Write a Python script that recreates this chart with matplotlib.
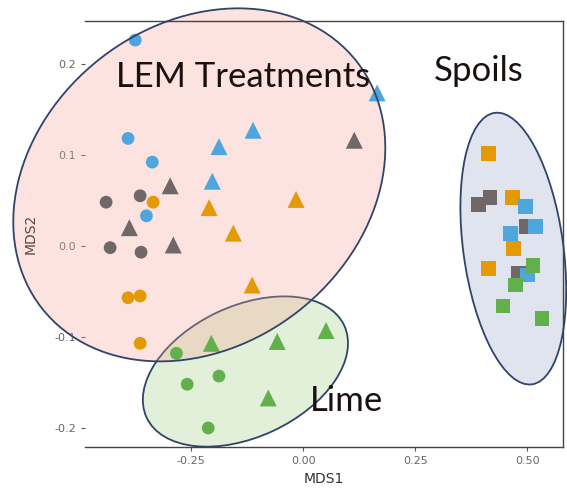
import matplotlib.pyplot as plt
from matplotlib.patches import Ellipse
from matplotlib.transforms import ScaledTranslation

# NMDS site scores, one list per marker shape
circle_x = [-0.375, -0.391, -0.337, -0.350,
            -0.364, -0.440, -0.431, -0.362,
            -0.335, -0.391, -0.364, -0.364,
            -0.283, -0.259, -0.188, -0.212]
circle_y = [0.226, 0.118, 0.092, 0.033,
            0.055, 0.048, -0.002, -0.007,
            0.048, -0.057, -0.055, -0.107,
            -0.118, -0.152, -0.143, -0.200]
circle_grp = ["blue"] * 4 + ["grey"] * 4 + ["orange"] * 4 + ["green"] * 4

triangle_x = [-0.112, -0.188, -0.203, 0.165,
              -0.297, -0.388, -0.290, 0.114,
              -0.210, -0.156, -0.016, -0.114,
              -0.205, -0.058, 0.051, -0.078]
triangle_y = [0.127, 0.109, 0.071, 0.168,
              0.066, 0.020, 0.001, 0.116,
              0.042, 0.014, 0.051, -0.043,
              -0.107, -0.105, -0.093, -0.167]
triangle_grp = ["blue"] * 4 + ["grey"] * 4 + ["orange"] * 4 + ["green"] * 4

square_x = [0.413, 0.467, 0.469, 0.413,
            0.391, 0.417, 0.498, 0.480,
            0.496, 0.518, 0.462, 0.500,
            0.513, 0.473, 0.446, 0.533]
square_y = [0.101, 0.053, -0.003, -0.025,
            0.045, 0.053, 0.021, -0.030,
            0.043, 0.021, 0.014, -0.032,
            -0.022, -0.043, -0.066, -0.080]
square_grp = ["orange"] * 4 + ["grey"] * 4 + ["blue"] * 4 + ["green"] * 4

x_ticks = [-0.25, 0.0, 0.25, 0.50]
x_ticklabels = ["-0.25", "0.00", "0.25", "0.50"]
y_ticks = [0.2, 0.1, 0.0, -0.1, -0.2]
y_ticklabels = ["0.2", "0.1", "0.0", "-0.1", "-0.2"]

colours = {"blue": "#4fa6dd", "grey": "#706768", "orange": "#e39a06", "green": "#62b04c"}

fig = plt.figure(figsize=(5.67, 4.99), dpi=100)
ax = fig.add_axes([0.150, 0.104, 0.843, 0.854])
ax.set_xlim(-0.487, 0.580)
ax.set_ylim(-0.221, 0.247)

ax.scatter(circle_x, circle_y, c=[colours[g] for g in circle_grp], marker="o", s=85,
           linewidths=0, zorder=3)
ax.scatter(triangle_x, triangle_y, c=[colours[g] for g in triangle_grp], marker="^", s=150,
           linewidths=0, zorder=3)
ax.scatter(square_x, square_y, c=[colours[g] for g in square_grp], marker="s", s=115,
           linewidths=0, zorder=3)


def add_ellipse(cx, cy, w, h, angle, z, **kw):
    # size in inches, centred on a data point
    tr = fig.dpi_scale_trans + ScaledTranslation(cx, cy, ax.transData)
    e = Ellipse((0, 0), w, h, angle=angle, transform=tr, clip_on=False, zorder=z, **kw)
    ax.add_patch(e)
    return e


edge = "#2f4468"
add_ellipse(-0.129, -0.138, 2.18, 1.31, 25, 1, facecolor="#e2f0d9", edgecolor=edge, lw=1.3)
add_ellipse(0.469, -0.003, 2.74, 1.00, 97.8, 1, facecolor="#dfe4ee", edgecolor=edge, lw=1.3)
add_ellipse(-0.232, 0.067, 4.00, 3.21, 38, 2, facecolor="#f8a598", alpha=0.3, edgecolor="none")
add_ellipse(-0.232, 0.067, 4.00, 3.21, 38, 4, facecolor="none", edgecolor=edge, lw=1.3)

ax.text(-0.134, 0.186, "LEM Treatments", fontsize=25, family="Lato", ha="center", va="center",
        color="#1a1010", zorder=6)
ax.text(0.392, 0.192, "Spoils", fontsize=25, family="Lato", ha="center", va="center",
        color="#1a1010", zorder=6)
ax.text(0.096, -0.170, "Lime", fontsize=25, family="Lato", ha="center", va="center",
        color="#1a1010", zorder=6)

ax.set_xticks(x_ticks)
ax.set_xticklabels(x_ticklabels)
ax.set_yticks(y_ticks)
ax.set_yticklabels(y_ticklabels)
ax.tick_params(labelsize=8, labelcolor="#666666", color="#555555", length=3)
ax.set_xlabel("MDS1", fontsize=10, color="#333333", labelpad=4)
ax.set_ylabel("MDS2", fontsize=10, color="#1a1a1a", labelpad=12)

ax.spines["left"].set_visible(False)
for s in ["top", "right", "bottom"]:
    ax.spines[s].set_color("#444444")
    ax.spines[s].set_linewidth(1.0)
ax.set_facecolor("white")

fig.savefig("out.png", dpi=100)
